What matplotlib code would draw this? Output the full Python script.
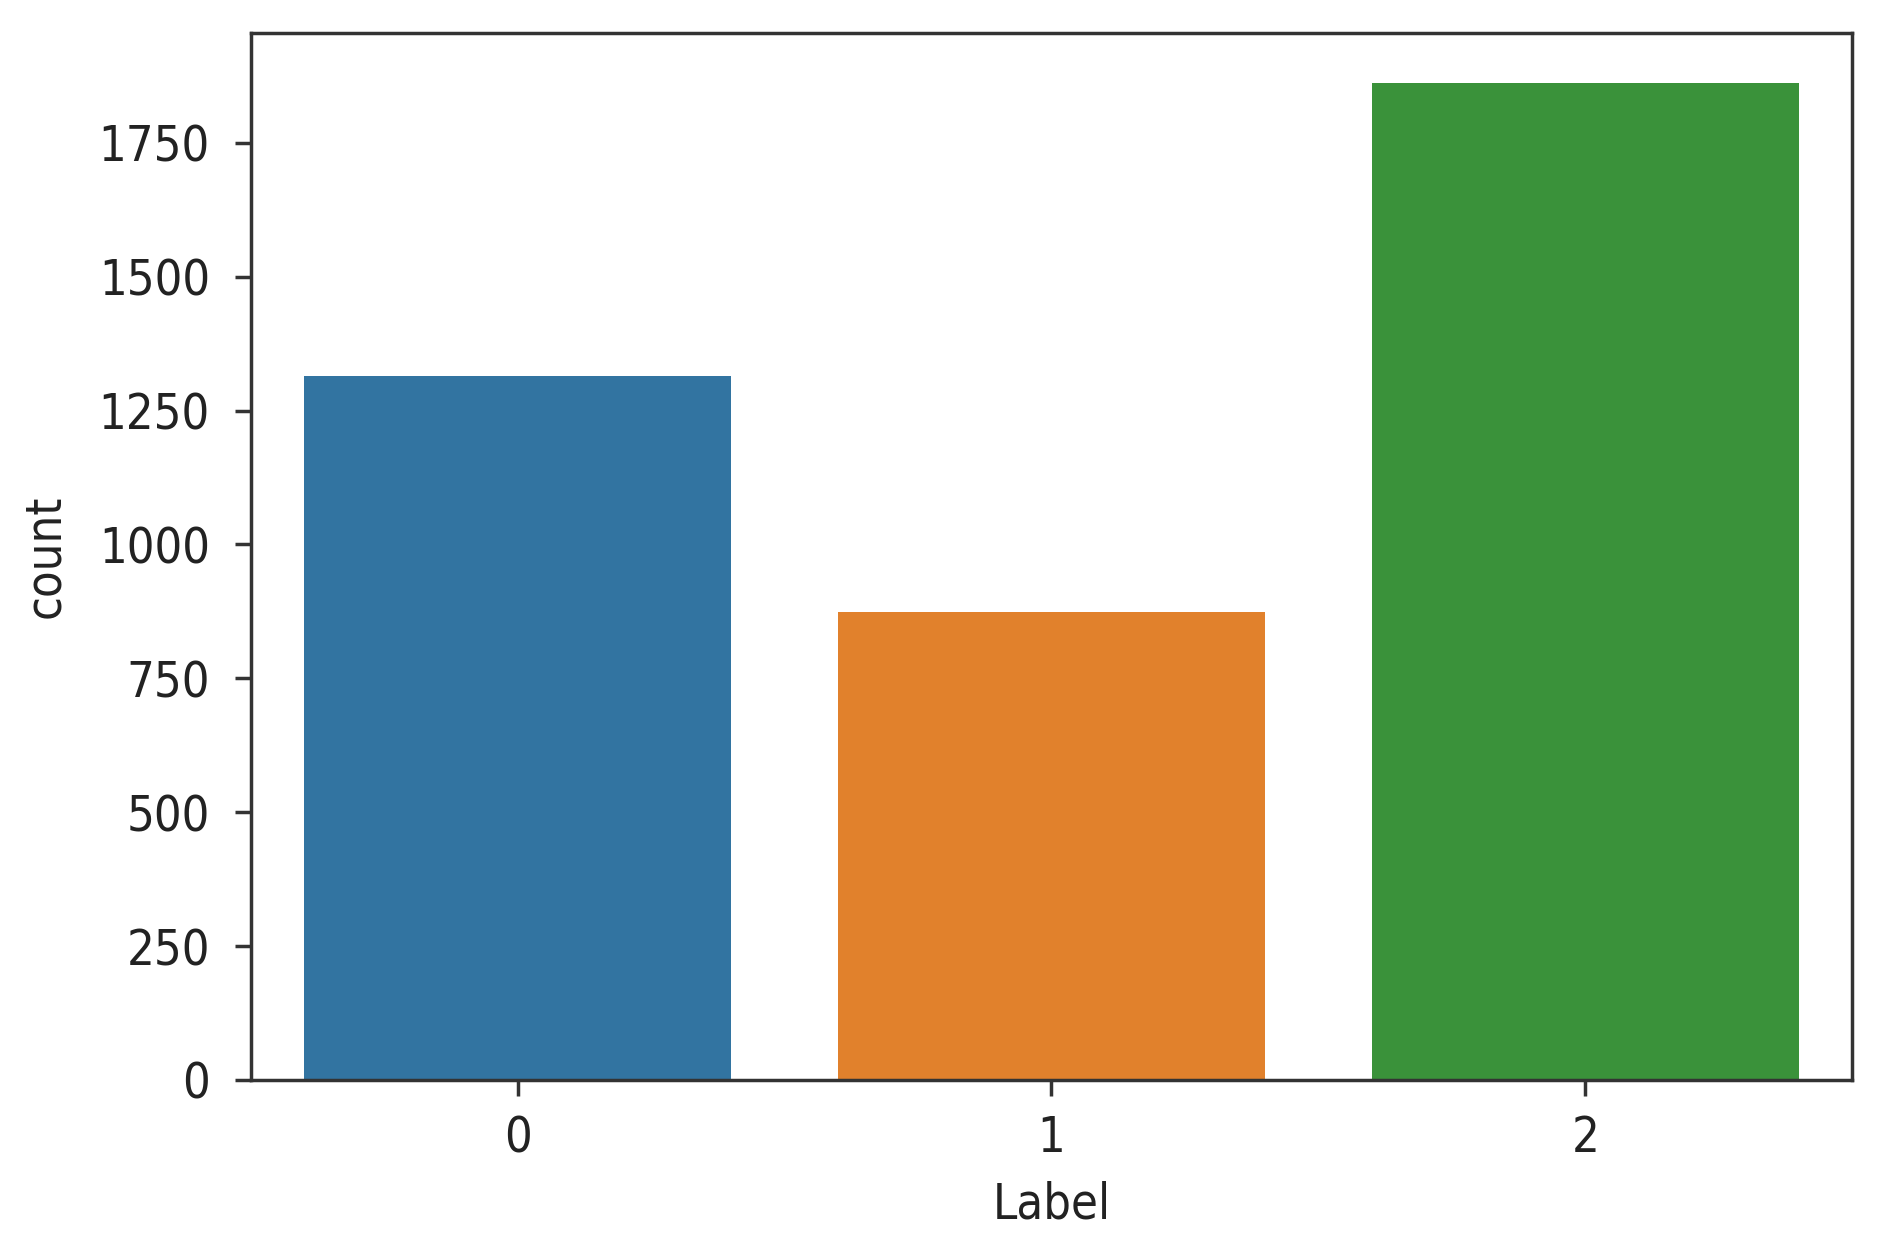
import matplotlib
matplotlib.use("Agg")
import matplotlib.pyplot as plt
from matplotlib import font_manager

categories = ["0", "1", "2"]
counts = [1314, 873, 1862]
colors = ["#3274a1", "#e1812c", "#3a923a"]

plt.rcParams['font.family'] = ['DejaVu Sans']
cond = any('Condensed' in f.name or f.stretch == 'condensed' for f in font_manager.fontManager.ttflist if 'DejaVu Sans' in f.name)
if cond:
    plt.rcParams['font.stretch'] = 'condensed'
    fs = 35
else:
    fs = 32
fig = plt.figure(figsize=(18.77, 12.52), dpi=100)
ax = fig.add_axes([0.1337, 0.1374, 0.9867 - 0.1337, 0.9736 - 0.1374])
x = list(range(len(categories)))
ax.bar(x, counts, width=0.8, color=colors)
ax.set_xlim(-0.5, len(categories) - 0.5)
ax.set_ylim(0, max(counts) * 1.05)
ax.set_xticks(x)
ax.set_xticklabels(categories)
ax.set_yticks(range(0, 2000, 250))
ax.tick_params(labelsize=fs, length=11.5, width=2.5, color="#333333", labelcolor="#222222")
ax.tick_params(axis='y', pad=18)
ax.tick_params(axis='x', pad=13)
for s in ax.spines.values():
    s.set_linewidth(2.5)
    s.set_color("#333333")
ax.set_xlabel("Label", fontsize=fs, color="#222222", labelpad=13)
ax.set_ylabel("count", fontsize=fs, color="#222222", labelpad=21)
fig.savefig("out.png", dpi=100)
